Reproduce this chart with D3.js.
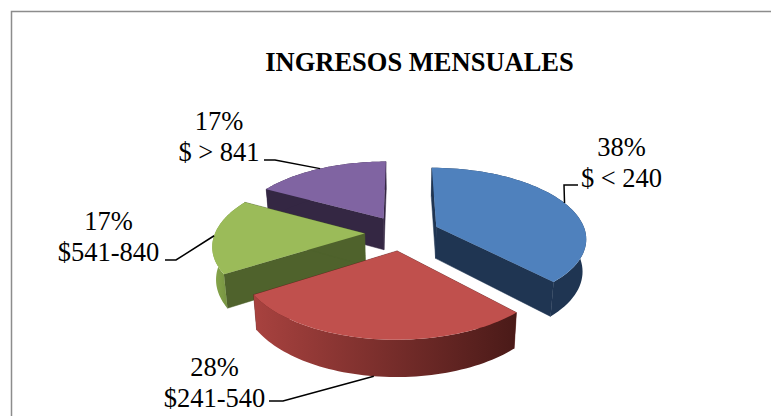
<!DOCTYPE html>
<html><head><meta charset="utf-8">
<script src="https://cdn.jsdelivr.net/npm/d3@7/dist/d3.min.js"></script>
<style>html,body{margin:0;padding:0;background:#fff}svg{display:block}text{font-family:"Liberation Serif","Times New Roman",serif;fill:#000}</style>
</head><body><svg id="c" width="771" height="416"></svg>
<script>
const title = "INGRESOS MENSUALES";
const categories = ["$ < 240", "$241-540", "$541-840", "$ > 841"];
const shares = [38, 28, 17, 17];
const pctLabels = ["38%", "28%", "17%", "17%"];
const topColors = ["#4f81bd", "#c0504d", "#9bbb59", "#8064a2"];
const wallColors = ["#1f3552", "#7a2d2b", "#7e9a45", "#342743"];
const faceColors = ["#1f3552", "#5e1f1d", "#4f622c", "#342743"];
const wallGrad = [null, ["#a8423f", "#4a1a18"], ["#8aa94d", "#5f7a33"], null];
const labelPos = [[621.5, 156], [214.5, 376], [108.5, 230], [219, 130]];
const elbows = [[[578,185],[564,185]], [[269,401],[283,401]], [[165,260],[176,260]], [[264,160],[275,160]]];
const drawOrder = [3, 2, 0, 1];

const cx = 402, cy = 233, a = 149.5, b = 69.5, p = 0.15, explode = 0.25, depth = 32;
const svg = d3.select("#c");
const defs = svg.append("defs");

const pie = d3.pie().sort(null).value(d => d)(shares);
const sx = d3.scaleLinear().domain([0, 1]).range([0, a]);
const sy = d3.scaleLinear().domain([0, 1]).range([0, -b]);

function proj(X, Y, bottom) {
  const w = 1 + p * Y;
  const px = sx(X) / w, py = sy(Y) / w;
  if (!bottom) return [cx + px, cy + py];
  return [cx + px * 0.98, cy + py + depth / Math.pow(w, 0.75)];
}
function pt(sl, th, r, bottom) {
  const m = (sl.startAngle + sl.endAngle) / 2;
  return proj(explode * Math.sin(m) + r * Math.sin(th), explode * Math.cos(m) + r * Math.cos(th), bottom);
}
const line = d3.line();

svg.append("path").attr("d", "M11.5 416V11.5H771").attr("fill", "none").attr("stroke", "#8c8c8c").attr("stroke-width", 1.5);

drawOrder.forEach(i => {
  const sl = pie[i];
  const ths = d3.range(0, 61).map(k => sl.startAngle + (sl.endAngle - sl.startAngle) * k / 60);
  const topArc = ths.map(t => pt(sl, t, 1, false));
  const botArc = ths.map(t => pt(sl, t, 1, true));
  const gT = svg.append("g");
  [sl.startAngle, sl.endAngle].forEach(t => {
    gT.append("path").attr("fill", faceColors[i]).attr("stroke", faceColors[i]).attr("stroke-width", .5)
      .attr("d", line([pt(sl, t, 0, false), pt(sl, t, 1, false), pt(sl, t, 1, true), pt(sl, t, 0, true)]) + "Z");
  });
  let fill = wallColors[i];
  if (wallGrad[i]) {
    const xs = topArc.map(d => d[0]);
    const id = "g" + i;
    const g = defs.append("linearGradient").attr("id", id).attr("gradientUnits", "userSpaceOnUse")
      .attr("x1", d3.min(xs)).attr("x2", d3.max(xs)).attr("y1", 0).attr("y2", 0);
    g.append("stop").attr("offset", 0).attr("stop-color", wallGrad[i][0]);
    g.append("stop").attr("offset", 1).attr("stop-color", wallGrad[i][1]);
    fill = `url(#${id})`;
  }
  gT.append("path").attr("fill", fill).attr("d", line(topArc.concat(botArc.slice().reverse())) + "Z");
  gT.append("path").attr("fill", topColors[i]).attr("d", line([pt(sl, 0, 0, false)].concat(topArc)) + "Z");
});

pie.forEach((sl, i) => {
  const m = (sl.startAngle + sl.endAngle) / 2;
  const end = pt(sl, m, 1, i === 1);
  svg.append("path").attr("fill", "none").attr("stroke", "#000").attr("stroke-width", 1.5)
    .attr("d", line(elbows[i].concat([end])));
});

svg.append("text").attr("x", 419.5).attr("y", 71).attr("text-anchor", "middle")
  .attr("font-size", 26.5).attr("font-weight", "bold").text(title);

categories.forEach((c, i) => {
  const [x, y] = labelPos[i];
  const t = svg.append("text").attr("text-anchor", "middle").attr("font-size", 26.5);
  t.append("tspan").attr("x", x).attr("y", y).text(pctLabels[i]);
  t.append("tspan").attr("x", x).attr("y", y + 30.5).text(c);
});
</script></body></html>
